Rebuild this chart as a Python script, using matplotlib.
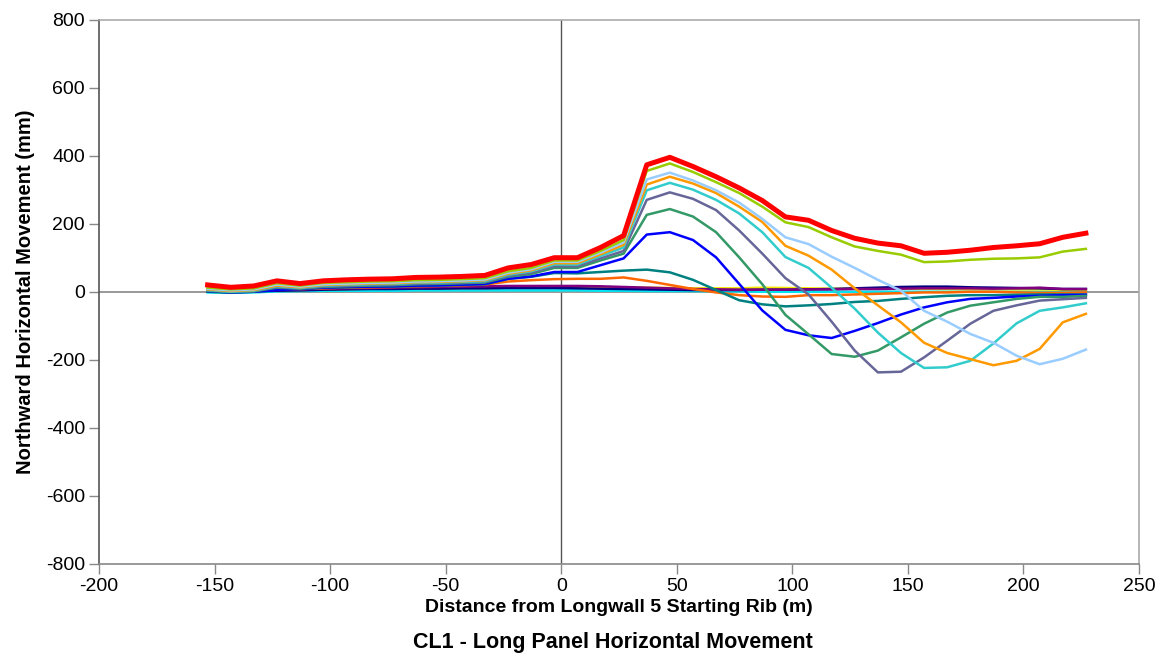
import numpy as np
import matplotlib
matplotlib.use("Agg")
import matplotlib.pyplot as plt

plt.rcParams['font.family'] = ['Liberation Sans', 'DejaVu Sans']
plt.rcParams['axes.unicode_minus'] = False

# distance along the centreline (m)
dist = [-153, -143, -133, -123, -113, -103, -93, -83, -73, -63, -53, -43, -33,
        -23, -13, -3, 7, 17, 27, 37, 47, 57, 67, 77, 87, 97, 107, 117, 127,
        137, 147, 157, 167, 177, 187, 197, 207, 217, 227]

# horizontal movement for each survey (mm), earliest first
s_cyan = [-2, -3, -2, 1, 2, 3, 3, 3, 3, 4, 4, 4, 4, 4, 4, 4, 4, 3, 3, 2, 2, 2, 1,
          1, 0, 0, 0, 0, 0, 0, 0, 0, 0, 0, 0, 0, 0, 0, 0]
s_purple = [2, 0, 2, 5, 7, 9, 10, 11, 12, 13, 14, 15, 16, 17, 17, 17, 17, 16, 14,
            12, 10, 8, 7, 6, 6, 6, 7, 7, 8, 8, 9, 10, 10, 10, 9, 10, 12, 8, 8]
s_yellow = [1, 0, 1, 4, 5, 7, 8, 9, 9, 10, 10, 11, 11, 12, 12, 12, 12, 12, 12,
            12, 11, 10, 10, 10, 12, 11, 10, 9, 9, 9, 9, 9, 8, 8, 8, 7, 7, 6, 6]
s_navy = [1, 0, 1, 3, 4, 6, 7, 8, 8, 9, 9, 10, 10, 11, 11, 11, 10, 9, 8, 7, 6,
          5, 5, 5, 6, 6, 7, 8, 10, 12, 14, 15, 15, 13, 12, 11, 10, 8, 8]
s_orangered = [5, 2, 4, 8, 8, 10, 12, 13, 14, 16, 17, 19, 21, 30, 34, 37, 38, 38,
               42, 32, 20, 8, -2, -10, -14, -15, -10, -10, -8, -6, -4, -2, -2,
               0, 0, -2, -3, -3, -2]
s_teal = [0, -3, 0, 8, 8, 12, 13, 15, 15, 17, 18, 20, 22, 38, 44, 55, 54, 58, 62,
          65, 57, 35, 5, -25, -37, -43, -40, -36, -30, -27, -21, -16, -12, -10,
          -10, -9, -8, -8, -8]
s_blue = [2, -2, 0, 5, 8, 12, 14, 15, 16, 18, 19, 21, 23, 38, 45, 58, 58, 78, 98,
          168, 175, 152, 101, 23, -55, -112, -128, -136, -115, -92, -67, -46,
          -31, -21, -18, -14, -12, -10, -9]
s_seagreen = [3, -1, 1, 12, 9, 14, 16, 18, 19, 22, 23, 25, 27, 44, 52, 70, 70,
              92, 112, 226, 243, 221, 175, 101, 22, -68, -125, -183, -191, -173,
              -134, -94, -61, -41, -31, -21, -15, -15, -12]
s_slate = [4, 0, 2, 14, 10, 16, 18, 20, 21, 24, 25, 27, 29, 47, 56, 75, 75, 98,
           120, 270, 292, 273, 240, 180, 112, 40, -8, -88, -173, -237, -235,
           -193, -144, -94, -56, -40, -26, -22, -18]
s_turq = [5, 0, 3, 16, 11, 18, 20, 22, 23, 26, 27, 29, 31, 50, 60, 80, 80, 105,
          130, 298, 320, 300, 270, 230, 175, 102, 70, 12, -50, -120, -180, -224,
          -222, -203, -152, -93, -56, -46, -34]
s_orange = [7, 2, 5, 18, 13, 20, 22, 24, 25, 28, 29, 31, 34, 53, 63, 84, 84, 110,
            138, 315, 338, 318, 290, 250, 205, 135, 106, 65, 10, -40, -90, -150,
            -180, -198, -216, -203, -168, -90, -65]
s_ltblue = [9, 4, 7, 21, 15, 22, 24, 26, 27, 30, 31, 33, 36, 56, 66, 88, 88, 115,
            145, 330, 350, 327, 298, 262, 214, 160, 140, 103, 70, 35, 3, -56,
            -88, -124, -150, -188, -213, -197, -170]
s_green = [12, 7, 10, 25, 18, 26, 28, 30, 31, 34, 35, 37, 40, 60, 70, 92, 92,
           120, 152, 355, 377, 352, 322, 290, 250, 204, 190, 160, 133, 120, 109,
           87, 89, 94, 97, 98, 101, 118, 126]
s_red = [20, 13, 17, 32, 24, 32, 35, 37, 38, 42, 43, 45, 48, 70, 80, 100, 100,
         130, 165, 373, 395, 368, 338, 305, 268, 220, 210, 180, 157, 143, 135,
         113, 116, 122, 130, 135, 141, 160, 172]

surveys = [
    (s_cyan, '#00E5F0', 1.8),
    (s_yellow, '#F5E600', 1.8),
    (s_navy, '#000080', 1.8),
    (s_purple, '#800080', 1.8),
    (s_orangered, '#FF6600', 1.8),
    (s_teal, '#008080', 1.8),
    (s_blue, '#0000FF', 1.8),
    (s_seagreen, '#339966', 1.8),
    (s_slate, '#666699', 1.8),
    (s_turq, '#33CCCC', 1.8),
    (s_orange, '#FF9900', 1.8),
    (s_ltblue, '#99CCFF', 1.8),
    (s_green, '#99CC00', 1.8),
    (s_red, '#FF0000', 3.6),
]

fig = plt.figure(figsize=(11.63, 6.59), dpi=100)
ax = fig.add_axes([0.0851, 0.1442, 0.8943, 0.8262])

ax.axvline(0, color='#555555', lw=1.0, zorder=1)
ax.axhline(0, color='#999999', lw=1.4, zorder=1)

for vals, col, lw in surveys:
    ax.plot(dist, vals, color=col, lw=lw, zorder=3)

ax.set_xlim(-200, 250)
ax.set_ylim(-800, 800)
ax.set_xticks(np.arange(-200, 251, 50))
ax.set_yticks(np.arange(-800, 801, 200))

ax.spines['left'].set_color('#555555')
ax.spines['bottom'].set_color('#888888')
ax.spines['top'].set_color('#AAAAAA')
ax.spines['right'].set_color('#AAAAAA')
for s in ax.spines.values():
    s.set_linewidth(1.2)
ax.tick_params(axis='both', direction='out', length=7, width=1,
               color='#888888', labelsize=14, pad=3)

ax.set_xlabel('Distance from Longwall 5 Starting Rib (m)', fontsize=14,
              fontweight='bold', labelpad=3)
ax.set_ylabel('Northward Horizontal Movement (mm)', fontsize=14.5,
              fontweight='bold', labelpad=8)
fig.text(0.527, 0.017, 'CL1 - Long Panel Horizontal Movement', ha='center',
         fontsize=15.5, fontweight='bold')

fig.savefig('out.png', dpi=100)
